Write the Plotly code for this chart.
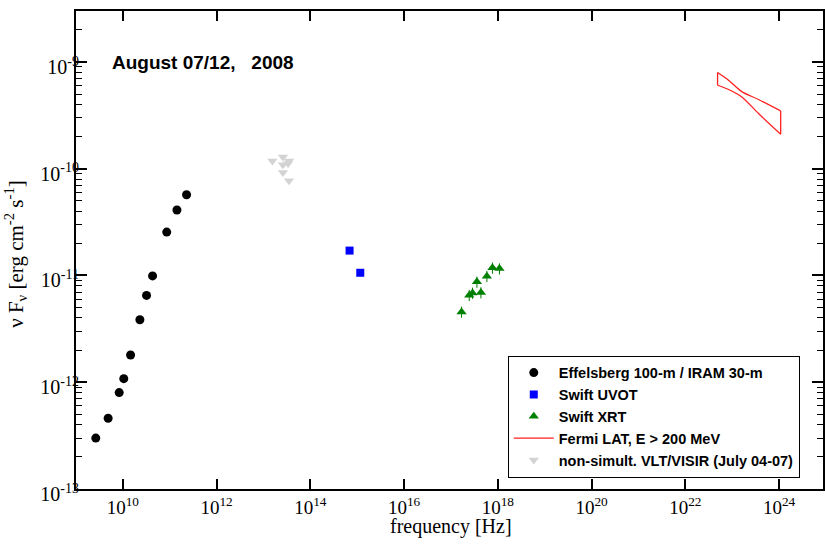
import numpy as np
import plotly.graph_objects as go

# Effelsberg 100-m / IRAM 30-m radio and mm flux densities (nu F_nu)
radio_freq = [2.64e9, 4.85e9, 8.35e9, 10.45e9, 14.6e9, 23.05e9, 32.0e9, 43.0e9, 86.2e9, 142.3e9, 228.4e9]
radio_flux = [3.0e-13, 4.6e-13, 8.0e-13, 1.08e-12, 1.8e-12, 3.85e-12, 6.5e-12, 9.9e-12, 2.55e-11, 4.1e-11, 5.7e-11]

# Swift UVOT
uvot_freq = [6.86e14, 1.16e15]
uvot_flux = [1.71e-11, 1.06e-11]

# Swift XRT
xrt_freq = [1.68e17, 2.45e17, 2.88e17, 3.57e17, 4.35e17, 5.83e17, 7.67e17, 1.08e18]
xrt_flux = [4.56e-12, 6.54e-12, 6.87e-12, 8.71e-12, 6.93e-12, 9.85e-12, 1.18e-11, 1.16e-11]
xrt_err_pct = 12

# Fermi LAT butterfly (E > 200 MeV): upper and lower envelopes
lat_freq = [4.86e22, 8.34e22, 1.6e23, 3.63e23, 1.08e24]
lat_upper = [7.96e-10, 6.74e-10, 5.27e-10, 4.45e-10, 3.48e-10]
lat_lower = [6.05e-10, 5.52e-10, 4.70e-10, 3.29e-10, 2.10e-10]

# VLT/VISIR mid-IR (non-simultaneous, July 04-07)
visir_freq = [1.55e13, 2.6e13, 2.6e13, 3.5e13, 3.35e13, 2.6e13, 3.5e13]
visir_flux = [1.18e-10, 1.29e-10, 1.09e-10, 1.18e-10, 1.12e-10, 9.2e-11, 7.7e-11]

# axis ticks
x_tick_exp = [10, 12, 14, 16, 18, 20, 22, 24]
y_tick_exp = [-13, -12, -11, -10, -9]

x_range = [9, 24.936]
y_range = [-13, np.log10(3e-9)]

SERIF = "Liberation Serif, Times New Roman, serif"
SANS = "Liberation Sans, Arial, sans-serif"


def power_labels(exps):
    return ["10<sup>%d</sup>" % e for e in exps]


fig = go.Figure()

fig.add_trace(go.Scatter(
    x=radio_freq, y=radio_flux, mode="markers",
    name="Effelsberg 100-m / IRAM 30-m",
    marker=dict(symbol="circle", size=9, color="black"),
))
fig.add_trace(go.Scatter(
    x=uvot_freq, y=uvot_flux, mode="markers",
    name="Swift UVOT",
    marker=dict(symbol="square", size=8, color="#0000ff"),
))
fig.add_trace(go.Scatter(
    x=xrt_freq, y=xrt_flux, mode="markers",
    name="Swift XRT",
    marker=dict(symbol="triangle-up", size=9, color="#008000"),
    error_y=dict(type="percent", value=xrt_err_pct, color="#008000", thickness=1, width=0),
))

# butterfly outline: smooth upper and lower envelopes plus the two vertical ends
lat_style = dict(color="#ff2020", width=1.3)
fig.add_trace(go.Scatter(
    x=lat_freq, y=lat_upper, mode="lines", line=dict(shape="spline", smoothing=0.8, **lat_style),
    name="Fermi LAT, E > 200 MeV", legendgroup="lat",
))
fig.add_trace(go.Scatter(
    x=lat_freq, y=lat_lower, mode="lines", line=dict(shape="spline", smoothing=0.8, **lat_style),
    name="Fermi LAT, E > 200 MeV", legendgroup="lat", showlegend=False,
))
fig.add_trace(go.Scatter(
    x=[lat_freq[0], lat_freq[0], None, lat_freq[-1], lat_freq[-1]],
    y=[lat_upper[0], lat_lower[0], None, lat_upper[-1], lat_lower[-1]],
    mode="lines", line=lat_style,
    name="Fermi LAT, E > 200 MeV", legendgroup="lat", showlegend=False,
))

fig.add_trace(go.Scatter(
    x=visir_freq, y=visir_flux, mode="markers",
    name="non-simult. VLT/VISIR (July 04-07)",
    marker=dict(symbol="triangle-down", size=9, color="#d3d3d3"),
))

fig.update_xaxes(
    type="log", range=x_range,
    tickvals=[10.0 ** e for e in x_tick_exp], ticktext=power_labels(x_tick_exp),
    showgrid=False, zeroline=False,
    showline=True, linecolor="black", linewidth=2, mirror="ticks",
    ticks="inside", ticklen=10, tickwidth=1.5, tickcolor="black",
    tickfont=dict(family=SERIF, size=19, color="black"),
)
fig.update_yaxes(
    type="log", range=y_range,
    tickvals=[10.0 ** e for e in y_tick_exp], ticktext=power_labels(y_tick_exp),
    showgrid=False, zeroline=False,
    showline=True, linecolor="black", linewidth=2, mirror="ticks",
    ticks="inside", ticklen=11, tickwidth=1.5, tickcolor="black",
    minor=dict(ticks="inside", ticklen=6, tickwidth=1, tickcolor="black", dtick="D1", showgrid=False),
    tickfont=dict(family=SERIF, size=20, color="black"),
    ticklabelstandoff=-9, ticklabelshift=5,
)

fig.add_annotation(
    text="August 07/12,\u00a0\u00a0 2008", xref="paper", yref="paper",
    x=0.045, y=0.893, xanchor="left", yanchor="middle", showarrow=False,
    font=dict(family=SANS, size=19, color="black", weight="bold"),
)
fig.add_annotation(
    text="frequency [Hz]", xref="paper", yref="paper",
    x=0.502, y=-0.078, xanchor="center", yanchor="middle", showarrow=False,
    font=dict(family=SERIF, size=20, color="black"),
)
fig.add_annotation(
    text="\u03bd F<sub>\u03bd</sub> [erg cm<sup>-2</sup> s<sup>-1</sup>]",
    xref="paper", yref="paper", textangle=-90,
    x=-0.081, y=0.493, xanchor="center", yanchor="middle", showarrow=False,
    font=dict(family=SERIF, size=21, color="black"),
)

fig.update_layout(
    width=825, height=546,
    margin=dict(l=76, r=0, t=11, b=57),
    paper_bgcolor="white", plot_bgcolor="white",
    showlegend=True,
    legend=dict(
        x=0.578, y=0.279, xanchor="left", yanchor="top",
        bgcolor="white", bordercolor="black", borderwidth=1,
        itemwidth=40, tracegroupgap=0,
        font=dict(family=SANS, size=14.5, color="black", weight="bold"),
    ),
)

fig.write_html("out.html")
